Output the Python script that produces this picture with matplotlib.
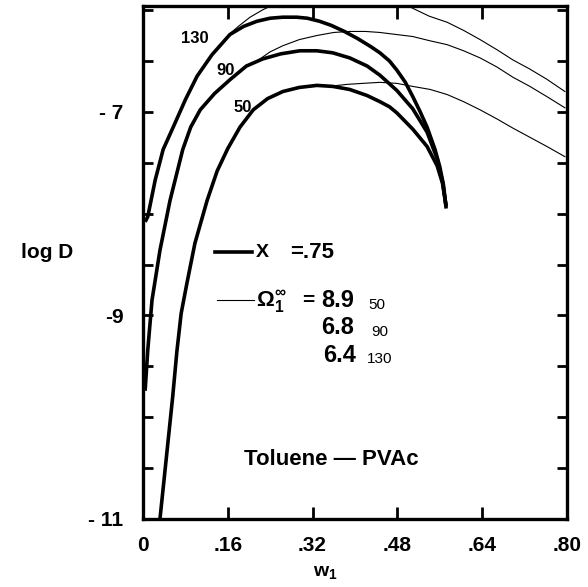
import matplotlib
matplotlib.use("Agg")
import matplotlib.pyplot as plt

plt.rcParams['font.family'] = ['Liberation Sans', 'DejaVu Sans']
plt.rcParams['font.weight'] = 'bold'
plt.rcParams['mathtext.fontset'] = 'custom'
plt.rcParams['mathtext.rm'] = 'Liberation Sans:bold'
plt.rcParams['mathtext.it'] = 'Liberation Sans:bold'
plt.rcParams['mathtext.bf'] = 'Liberation Sans:bold'

# thick curves, X = .75
w_130 = [0.004, 0.009, 0.023, 0.038, 0.057, 0.080, 0.102, 0.130, 0.164, 0.190, 0.215,
         0.240, 0.264, 0.290, 0.310, 0.333, 0.355, 0.380, 0.405, 0.430, 0.447, 0.465,
         0.479, 0.495, 0.509, 0.523, 0.536, 0.551, 0.560, 0.567, 0.572]
d_130 = [-8.08, -8.03, -7.67, -7.37, -7.15, -6.88, -6.65, -6.44, -6.24, -6.16, -6.11,
         -6.08, -6.07, -6.07, -6.08, -6.11, -6.15, -6.21, -6.28, -6.36, -6.42, -6.50,
         -6.59, -6.71, -6.85, -7.00, -7.15, -7.37, -7.54, -7.72, -7.95]

w_90 = [0.004, 0.009, 0.017, 0.032, 0.051, 0.075, 0.090, 0.108, 0.135, 0.165, 0.195,
        0.226, 0.260, 0.296, 0.328, 0.358, 0.390, 0.423, 0.447, 0.479, 0.509, 0.536,
        0.555, 0.565, 0.572]
d_90 = [-9.74, -9.34, -8.85, -8.36, -7.87, -7.37, -7.15, -6.98, -6.82, -6.68, -6.55,
        -6.48, -6.43, -6.40, -6.40, -6.42, -6.47, -6.55, -6.64, -6.79, -6.97, -7.20,
        -7.46, -7.68, -7.93]

w_50 = [0.032, 0.040, 0.048, 0.056, 0.064, 0.072, 0.083, 0.098, 0.121, 0.140, 0.160,
        0.183, 0.208, 0.235, 0.264, 0.295, 0.328, 0.358, 0.390, 0.423, 0.447, 0.465,
        0.479, 0.509, 0.536, 0.555, 0.565, 0.572]
d_50 = [-11.0, -10.6, -10.2, -9.8, -9.35, -8.98, -8.68, -8.29, -7.87, -7.58, -7.36,
        -7.15, -6.98, -6.87, -6.80, -6.76, -6.74, -6.75, -6.78, -6.84, -6.90, -6.95,
        -7.01, -7.17, -7.34, -7.53, -7.70, -7.93]

# thin curves, Omega_1^inf = 8.9 / 6.8 / 6.4
tw_130 = [0.160, 0.180, 0.202, 0.225, 0.245, 0.30, 0.37, 0.44, 0.504, 0.540, 0.574,
          0.605, 0.636, 0.668, 0.698, 0.730, 0.762, 0.796]
td_130 = [-6.25, -6.16, -6.07, -6.00, -5.95, -5.84, -5.78, -5.84, -5.97, -6.06, -6.12,
          -6.20, -6.29, -6.39, -6.49, -6.58, -6.68, -6.80]

tw_90 = [0.215, 0.240, 0.264, 0.295, 0.328, 0.360, 0.390, 0.420, 0.447, 0.478, 0.509,
         0.540, 0.574, 0.605, 0.636, 0.668, 0.698, 0.730, 0.762, 0.796]
td_90 = [-6.50, -6.41, -6.35, -6.29, -6.25, -6.22, -6.21, -6.21, -6.22, -6.24, -6.26,
         -6.30, -6.34, -6.40, -6.47, -6.56, -6.66, -6.75, -6.85, -6.96]

tw_50 = [0.350, 0.385, 0.415, 0.447, 0.479, 0.509, 0.542, 0.574, 0.605, 0.636, 0.668,
         0.698, 0.730, 0.762, 0.796]
td_50 = [-6.75, -6.73, -6.72, -6.71, -6.72, -6.75, -6.78, -6.83, -6.90, -6.98, -7.07,
         -7.16, -7.25, -7.34, -7.44]

xticks = [0, 0.16, 0.32, 0.48, 0.64, 0.80]
xlabels = ['0', '.16', '.32', '.48', '.64', '.80']
yticks = [-11, -9, -7]
ylabels = ['- 11', '-9', '- 7']

fig = plt.figure(figsize=(5.88, 5.87), dpi=100)
ax = fig.add_axes([143/588, 68/587, 424/588, 513/587])

for w, d in [(w_130, d_130), (w_90, d_90), (w_50, d_50)]:
    ax.plot(w, d, color='black', lw=2.6, solid_capstyle='butt', solid_joinstyle='round')
for w, d in [(tw_130, td_130), (tw_90, td_90), (tw_50, td_50)]:
    ax.plot(w, d, color='black', lw=0.8)

ax.set_xlim(0, 0.80)
ax.set_ylim(-11, -5.96)
ax.set_xticks(xticks)
ax.set_xticklabels(xlabels)
ax.set_yticks(yticks)
ax.set_yticklabels(ylabels)
ax.set_yticks([-10.5, -10, -9.5, -8.5, -8, -7.5, -6.5, -6], minor=True)
ax.tick_params(axis='both', which='both', direction='in', top=True, right=True,
               width=2, labelsize=15)
ax.tick_params(axis='x', which='major', length=9, pad=12)
ax.tick_params(axis='y', which='both', length=7, pad=14)
for s in ax.spines.values():
    s.set_linewidth(2.4)

ax.set_ylabel('log D', rotation=0, fontsize=15, weight='bold')
ax.yaxis.set_label_coords(-0.225, 0.5)
ax.set_xlabel(r'w$_\mathbf{1}$', fontsize=14, weight='bold')
ax.xaxis.set_label_coords(0.43, -0.087)

ax.text(0.098, -6.28, '130', fontsize=12, ha='center', va='center')
ax.text(0.155, -6.59, '90', fontsize=12, ha='center', va='center')
ax.text(0.189, -6.96, '50', fontsize=12, ha='center', va='center')

ax.plot([0.136, 0.206], [-8.38, -8.38], color='black', lw=2.6)
ax.text(0.213, -8.38, 'X', fontsize=14, va='center')
ax.text(0.277, -8.38, '=.75', fontsize=16, va='center')
ax.plot([0.140, 0.209], [-8.85, -8.85], color='black', lw=0.8)
ax.text(0.213, -8.87, r'$\Omega_1^{\infty}$', fontsize=16, va='center')
ax.text(0.300, -8.85, '=', fontsize=15, va='center')
ax.text(0.336, -8.85, '8.9', fontsize=17, va='center')
ax.text(0.425, -8.90, '50', fontsize=11, va='center', weight='normal')
ax.text(0.336, -9.12, '6.8', fontsize=17, va='center')
ax.text(0.430, -9.16, '90', fontsize=11, va='center', weight='normal')
ax.text(0.340, -9.39, '6.4', fontsize=17, va='center')
ax.text(0.423, -9.43, '130', fontsize=11, va='center', weight='normal')

ax.text(0.355, -10.42, 'Toluene \u2014 PVAc', fontsize=16, ha='center', va='center')

fig.savefig('out.png', dpi=100)
